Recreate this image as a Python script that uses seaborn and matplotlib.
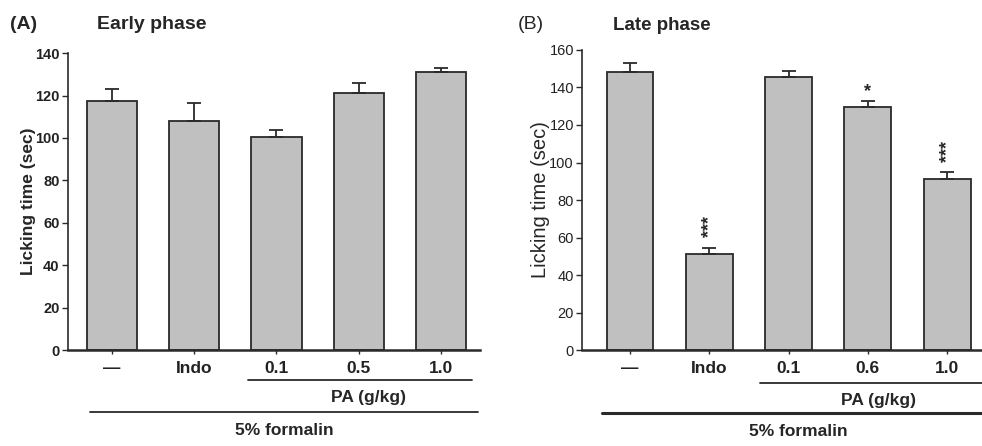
import numpy as np
import pandas as pd
import matplotlib
matplotlib.use("Agg")
import matplotlib.pyplot as plt
import matplotlib.transforms as mtransforms
import seaborn as sns

# data
groups = ["g0", "g1", "g2", "g3", "g4"]
labels_early = ["\u2014", "Indo", "0.1", "0.5", "1.0"]
labels_late = ["\u2014", "Indo", "0.1", "0.6", "1.0"]
early_mean = [117.5, 108, 100.5, 121, 131]
early_err = [5.5, 8.5, 3.3, 4.8, 2.2]
late_mean = [148.5, 51, 145.5, 129.5, 91]
late_err = [4.3, 3.5, 3.3, 3.3, 3.8]
late_stars = ["", "***", "", "*", "***"]
late_star_y = [0, 66, 0, 138, 106]

sns.set_theme(style="ticks")
plt.rcParams['font.family'] = ['Liberation Sans', 'DejaVu Sans']

fig = plt.figure(figsize=(9.82, 4.46), dpi=100)
ax_a = fig.add_axes([0.069, 0.215, 0.42, 0.666])
ax_b = fig.add_axes([0.593, 0.215, 0.407, 0.673])

bar_color = "#c0c0c0"
edge_color = "#2a2a2a"


def draw_panel(ax, means, errs, ticklabels, ymax, width, xlim, bold):
    df = pd.DataFrame({"group": groups, "value": means})
    sns.barplot(data=df, x="group", y="value", ax=ax, color=bar_color,
                edgecolor=edge_color, linewidth=1.3, width=width,
                saturation=1, errorbar=None)
    ax.errorbar(np.arange(len(means)), means,
                yerr=[np.zeros(len(errs)), errs], fmt="none",
                ecolor=edge_color, elinewidth=1.3, capsize=5, capthick=1.3)
    ax.set_ylim(0, ymax)
    ax.set_xlim(*xlim)
    ax.set_yticks(np.arange(0, ymax + 1, 20))
    ax.set_xticks(range(len(means)))
    ax.set_xticklabels(ticklabels, fontsize=12.5, fontweight="bold")
    for lab in ax.get_yticklabels():
        lab.set_fontsize(10.5)
        lab.set_fontweight("bold" if bold else "normal")
    ax.set_xlabel("")
    ax.spines["top"].set_visible(False)
    ax.spines["right"].set_visible(False)
    ax.spines["left"].set_linewidth(1.2)
    ax.spines["bottom"].set_linewidth(1.8)
    ax.spines["left"].set_color(edge_color)
    ax.spines["bottom"].set_color(edge_color)
    ax.tick_params(axis="y", length=4, width=1, direction="out", colors=edge_color,
                   labelcolor="#222222", pad=2)
    ax.tick_params(axis="x", length=3, width=1, direction="out", colors=edge_color,
                   labelcolor="#222222", pad=5)


draw_panel(ax_a, early_mean, early_err, labels_early, 140, 0.61, (-0.54, 4.48), True)
draw_panel(ax_b, late_mean, late_err, labels_late, 160, 0.59, (-0.6, 4.44), False)

# y labels sit right next to the tick labels
ax_a.set_ylabel("Licking time (sec)", fontsize=12.5, fontweight="bold")
ax_a.yaxis.set_label_coords(-0.077, 0.5)
ax_b.set_ylabel("Licking time (sec)", fontsize=14.5)
ax_b.yaxis.set_label_coords(-0.08, 0.5)

# stars on late phase
for i, s in enumerate(late_stars):
    if s == "***":
        ax_b.text(i, late_star_y[i], s, rotation=90, ha="center", va="center",
                  fontsize=13, fontweight="bold")
    elif s:
        ax_b.text(i, late_star_y[i], s, ha="center", va="center", fontsize=13, fontweight="bold")

# group brackets under the x axis
def group_lines(ax, pa_x, pa_y, pa_text_x, form_x, form_y, form_text_x, form_lw):
    trans = mtransforms.blended_transform_factory(ax.transData, ax.transAxes)
    ax.plot(pa_x, [pa_y, pa_y], color=edge_color, lw=1.3, transform=trans, clip_on=False)
    ax.text(pa_text_x, pa_y - 0.058, "PA (g/kg)", transform=trans, ha="center", va="center",
            fontsize=12.5, fontweight="bold")
    ax.plot(form_x, [form_y, form_y], color=edge_color, lw=form_lw, transform=trans, clip_on=False)
    ax.text(form_text_x, form_y - 0.062, "5% formalin", transform=trans, ha="center", va="center",
            fontsize=12.5, fontweight="bold")


group_lines(ax_a, [1.65, 4.38], -0.101, 3.12, [-0.27, 4.45], -0.209, 2.1, 1.3)
group_lines(ax_b, [1.64, 4.44], -0.109, 3.13, [-0.35, 4.44], -0.209, 2.12, 2.2)

# panel titles
fig.text(0.010, 0.945, "(A)", fontsize=14, fontweight="bold", va="center")
fig.text(0.099, 0.945, "Early phase", fontsize=14, fontweight="bold", va="center")
fig.text(0.527, 0.945, "(B)", fontsize=14, va="center")
fig.text(0.624, 0.943, "Late phase", fontsize=13.5, fontweight="bold", va="center")

fig.savefig("out.png", dpi=100)
